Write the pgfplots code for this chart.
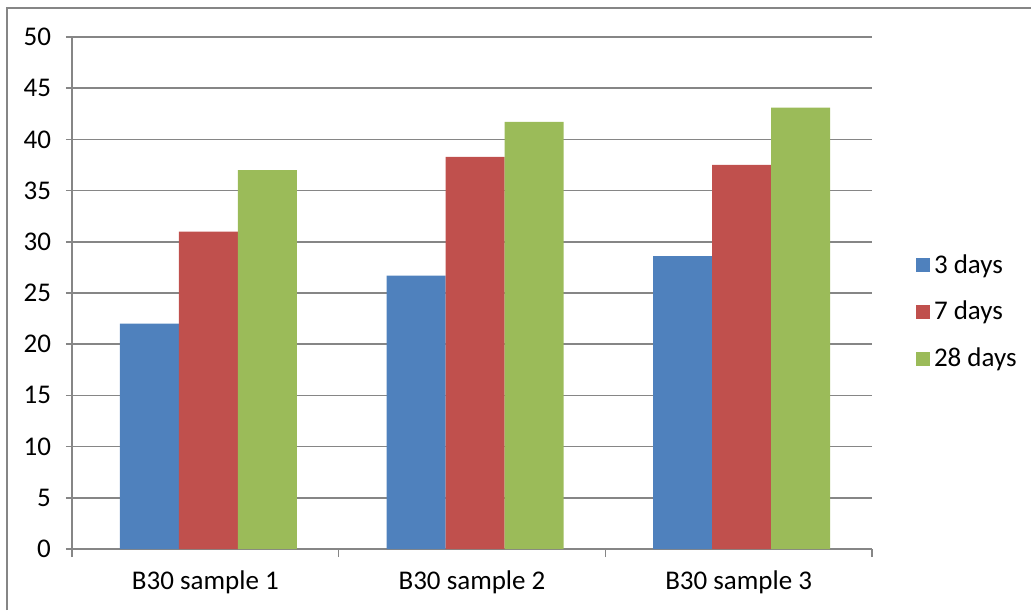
\documentclass[border=0pt]{standalone}
\usepackage{fontspec}
\setmainfont{Carlito}
\usepackage{pgfplots}
\pgfplotsset{compat=1.18}
\definecolor{c1}{HTML}{4F81BD}
\definecolor{c2}{HTML}{C0504D}
\definecolor{c3}{HTML}{9BBB59}
\definecolor{gridc}{HTML}{868686}
\begin{document}
\begin{tikzpicture}
\draw[gridc, line width=0.75pt] (3.5pt,0pt) -- (3.5pt,301pt) -- (515.5pt,301pt);
\begin{axis}[
  at={(36pt,30.5pt)}, anchor=south west,
  scale only axis, width=400pt, height=256pt,
  xmin=-0.5, xmax=2.5, ymin=0, ymax=50,
  ybar=0pt, bar width=29.5pt,
  xtick={0,1,2},
  xticklabels={B30 sample 1,B30 sample 2,B30 sample 3},
  major x tick style={draw=none},
  minor xtick={-0.5,0.5,1.5,2.5},
  ytick={0,5,...,50},
  ymajorgrids, grid style={gridc, line width=0.75pt},
  axis x line*=bottom, axis y line*=left,
  axis line style={gridc, line width=0.75pt, -},
  tick align=outside,
  major tick length=3pt, minor tick length=4pt,
  every tick/.style={gridc, line width=0.75pt},
  tick label style={font=\fontsize{13.5}{15}\selectfont},
  /pgf/number format/assume math mode=true,
  xticklabel style={yshift=-4.5pt},
  yticklabel style={xshift=-4pt},
  legend style={draw=none, fill=none, at={(1.047,0.463)}, anchor=west,
    font=\fontsize{13.5}{15}\selectfont, row sep=8.5pt},
  legend cell align=left,
  every axis plot post/.append style={legend image code/.code={\fill[##1] (0pt,-3.5pt) rectangle (7pt,3.5pt);}},
]
\addplot[fill=c1, draw=none, bar shift=-28pt] coordinates {(0,22) (1,26.7) (2,28.6)};
\addplot[fill=c2, draw=none, bar shift=1.5pt] coordinates {(0,31) (1,38.3) (2,37.5)};
\addplot[fill=c3, draw=none, bar shift=31pt] coordinates {(0,37) (1,41.7) (2,43.1)};
\legend{3 days,7 days,28 days}
\end{axis}
\pgfresetboundingbox
\path[use as bounding box] (0,0) rectangle (515.5pt,305pt);
\end{tikzpicture}
\end{document}
